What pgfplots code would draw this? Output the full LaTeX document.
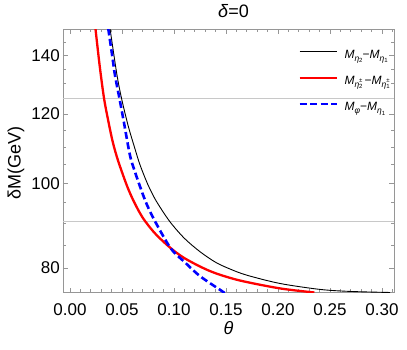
\documentclass[border=0pt]{standalone}
\usepackage{fontspec}
\setmainfont{Liberation Sans}
\usepackage{pgfplots}
\pgfplotsset{compat=1.18}
\definecolor{framegray}{RGB}{150,150,150}
\definecolor{gridgray}{RGB}{200,200,200}
% small sub/superscripts for the legend texts
\newcommand{\ssub}[1]{\raisebox{-0.45ex}{\fontsize{8.5}{9}\selectfont #1}}
\newcommand{\sss}[1]{\raisebox{-0.3ex}{\fontsize{6}{6}\selectfont #1}}
\newcommand{\pms}[1]{\makebox[0pt][l]{\raisebox{1.1ex}{\fontsize{6}{6}\selectfont ±}}\raisebox{-0.3ex}{\fontsize{6}{6}\selectfont #1}}

\begin{document}
\begin{tikzpicture}
\begin{axis}[
  scale only axis, width=331pt, height=263pt,
  ymode=log,
  xmin=-0.0067, xmax=0.3115, ymin=75, ymax=150,
  xtick={0,0.05,0.1,0.15,0.2,0.25,0.3},
  xticklabels={0.00,0.05,0.10,0.15,0.20,0.25,0.30},
  minor xtick={0.01,0.02,0.03,0.04,0.06,0.07,0.08,0.09,0.11,0.12,0.13,0.14,0.16,0.17,0.18,0.19,0.21,0.22,0.23,0.24,0.26,0.27,0.28,0.29,0.31},
  ytick={80,100,120,140},
  yticklabels={80,100,120,140},
  minor ytick={85,90,95,105,110,115,125,130,135,145},
  extra y ticks={90.5,125},
  extra y tick labels={},
  extra y tick style={grid=major, major grid style={draw=gridgray, line width=0.9pt}, major tick length=0pt},
  tick align=inside, major tick length=5pt, minor tick length=3pt,
  tick style={framegray, line width=0.7pt},
  axis line style={framegray, line width=0.9pt},
  ticklabel style={font=\fontsize{17}{17}\selectfont},
  xticklabel style={anchor=center, yshift=-17.5pt},
  yticklabel style={anchor=east, inner sep=0pt, xshift=-3pt},
  xlabel={\textit{θ}},
  xlabel style={at={(axis description cs:0.5,-0.135)}, anchor=center, font=\fontsize{18}{18}\selectfont},
  ylabel={δM(GeV)},
  ylabel style={at={(axis description cs:-0.142,0.492)}, anchor=center, font=\fontsize{18}{18}\selectfont},
  title={\textit{δ}=0},
  title style={at={(axis description cs:0.515,1.046)}, anchor=center, font=\fontsize{18}{18}\selectfont},
  legend style={draw=none, fill=none, at={(axis description cs:0.71,0.922)}, anchor=north west,
    inner sep=0pt, row sep=16.5pt, column sep=6.7pt,
    nodes={inner sep=0pt, font=\fontsize{12}{12}\selectfont}},
  legend cell align=left,
  legend image code/.code={\draw[#1] (0pt,0.35em) -- (37pt,0.35em);},
]
\addplot[black, line width=0.9pt, smooth] coordinates {
  (0.0385,150.4) (0.0449,133.7) (0.0495,125.2) (0.0560,116.3) (0.0625,109.5)
  (0.0673,105.0) (0.075,99.6) (0.083,95.4) (0.096,90.4) (0.110,86.5)
  (0.125,83.5) (0.140,81.2) (0.1538,79.8) (0.170,78.5) (0.2019,76.8)
  (0.2404,75.6) (0.270,75.2) (0.3077,75.0)
};
\addlegendentry{\textit{M}\ssub{\textit{η}\sss{2}}−\textit{M}\ssub{\textit{η}\sss{1}}}
\addplot[red, line width=2.3pt, smooth] coordinates {
  (0.0245,150.4) (0.0285,136.5) (0.0327,125.2) (0.037,117.6) (0.0413,111.3)
  (0.0464,106.0) (0.055,99.2) (0.062,95.0) (0.070,91.3) (0.080,88.1) (0.090,85.7)
  (0.100,83.7) (0.110,82.1) (0.125,80.3) (0.140,78.9) (0.1635,77.4)
  (0.2019,75.8) (0.235,75.0)
};
\addlegendentry{\textit{M}\ssub{\textit{η}\pms{2}}\,−\textit{M}\ssub{\textit{η}\pms{1}}}
\addplot[blue, line width=2.6pt, dash pattern=on 7pt off 3.5pt, smooth] coordinates {
  (0.0368,150.4) (0.0406,140.0) (0.0433,132.9) (0.0475,125.2) (0.0521,117.0)
  (0.0567,109.1) (0.0603,104.9) (0.0721,95.7) (0.0817,90.5) (0.097,84.2)
  (0.110,81.3) (0.125,78.3) (0.1459,75.3) (0.150,74.7)
};
\addlegendentry{\textit{M}\ssub{\textit{φ}}−\textit{M}\ssub{\textit{η}\sss{1}}}
\end{axis}
\pgfresetboundingbox
\path[use as bounding box] (-63pt,-56.5pt) rectangle (344pt,292.5pt);
\end{tikzpicture}
\end{document}
